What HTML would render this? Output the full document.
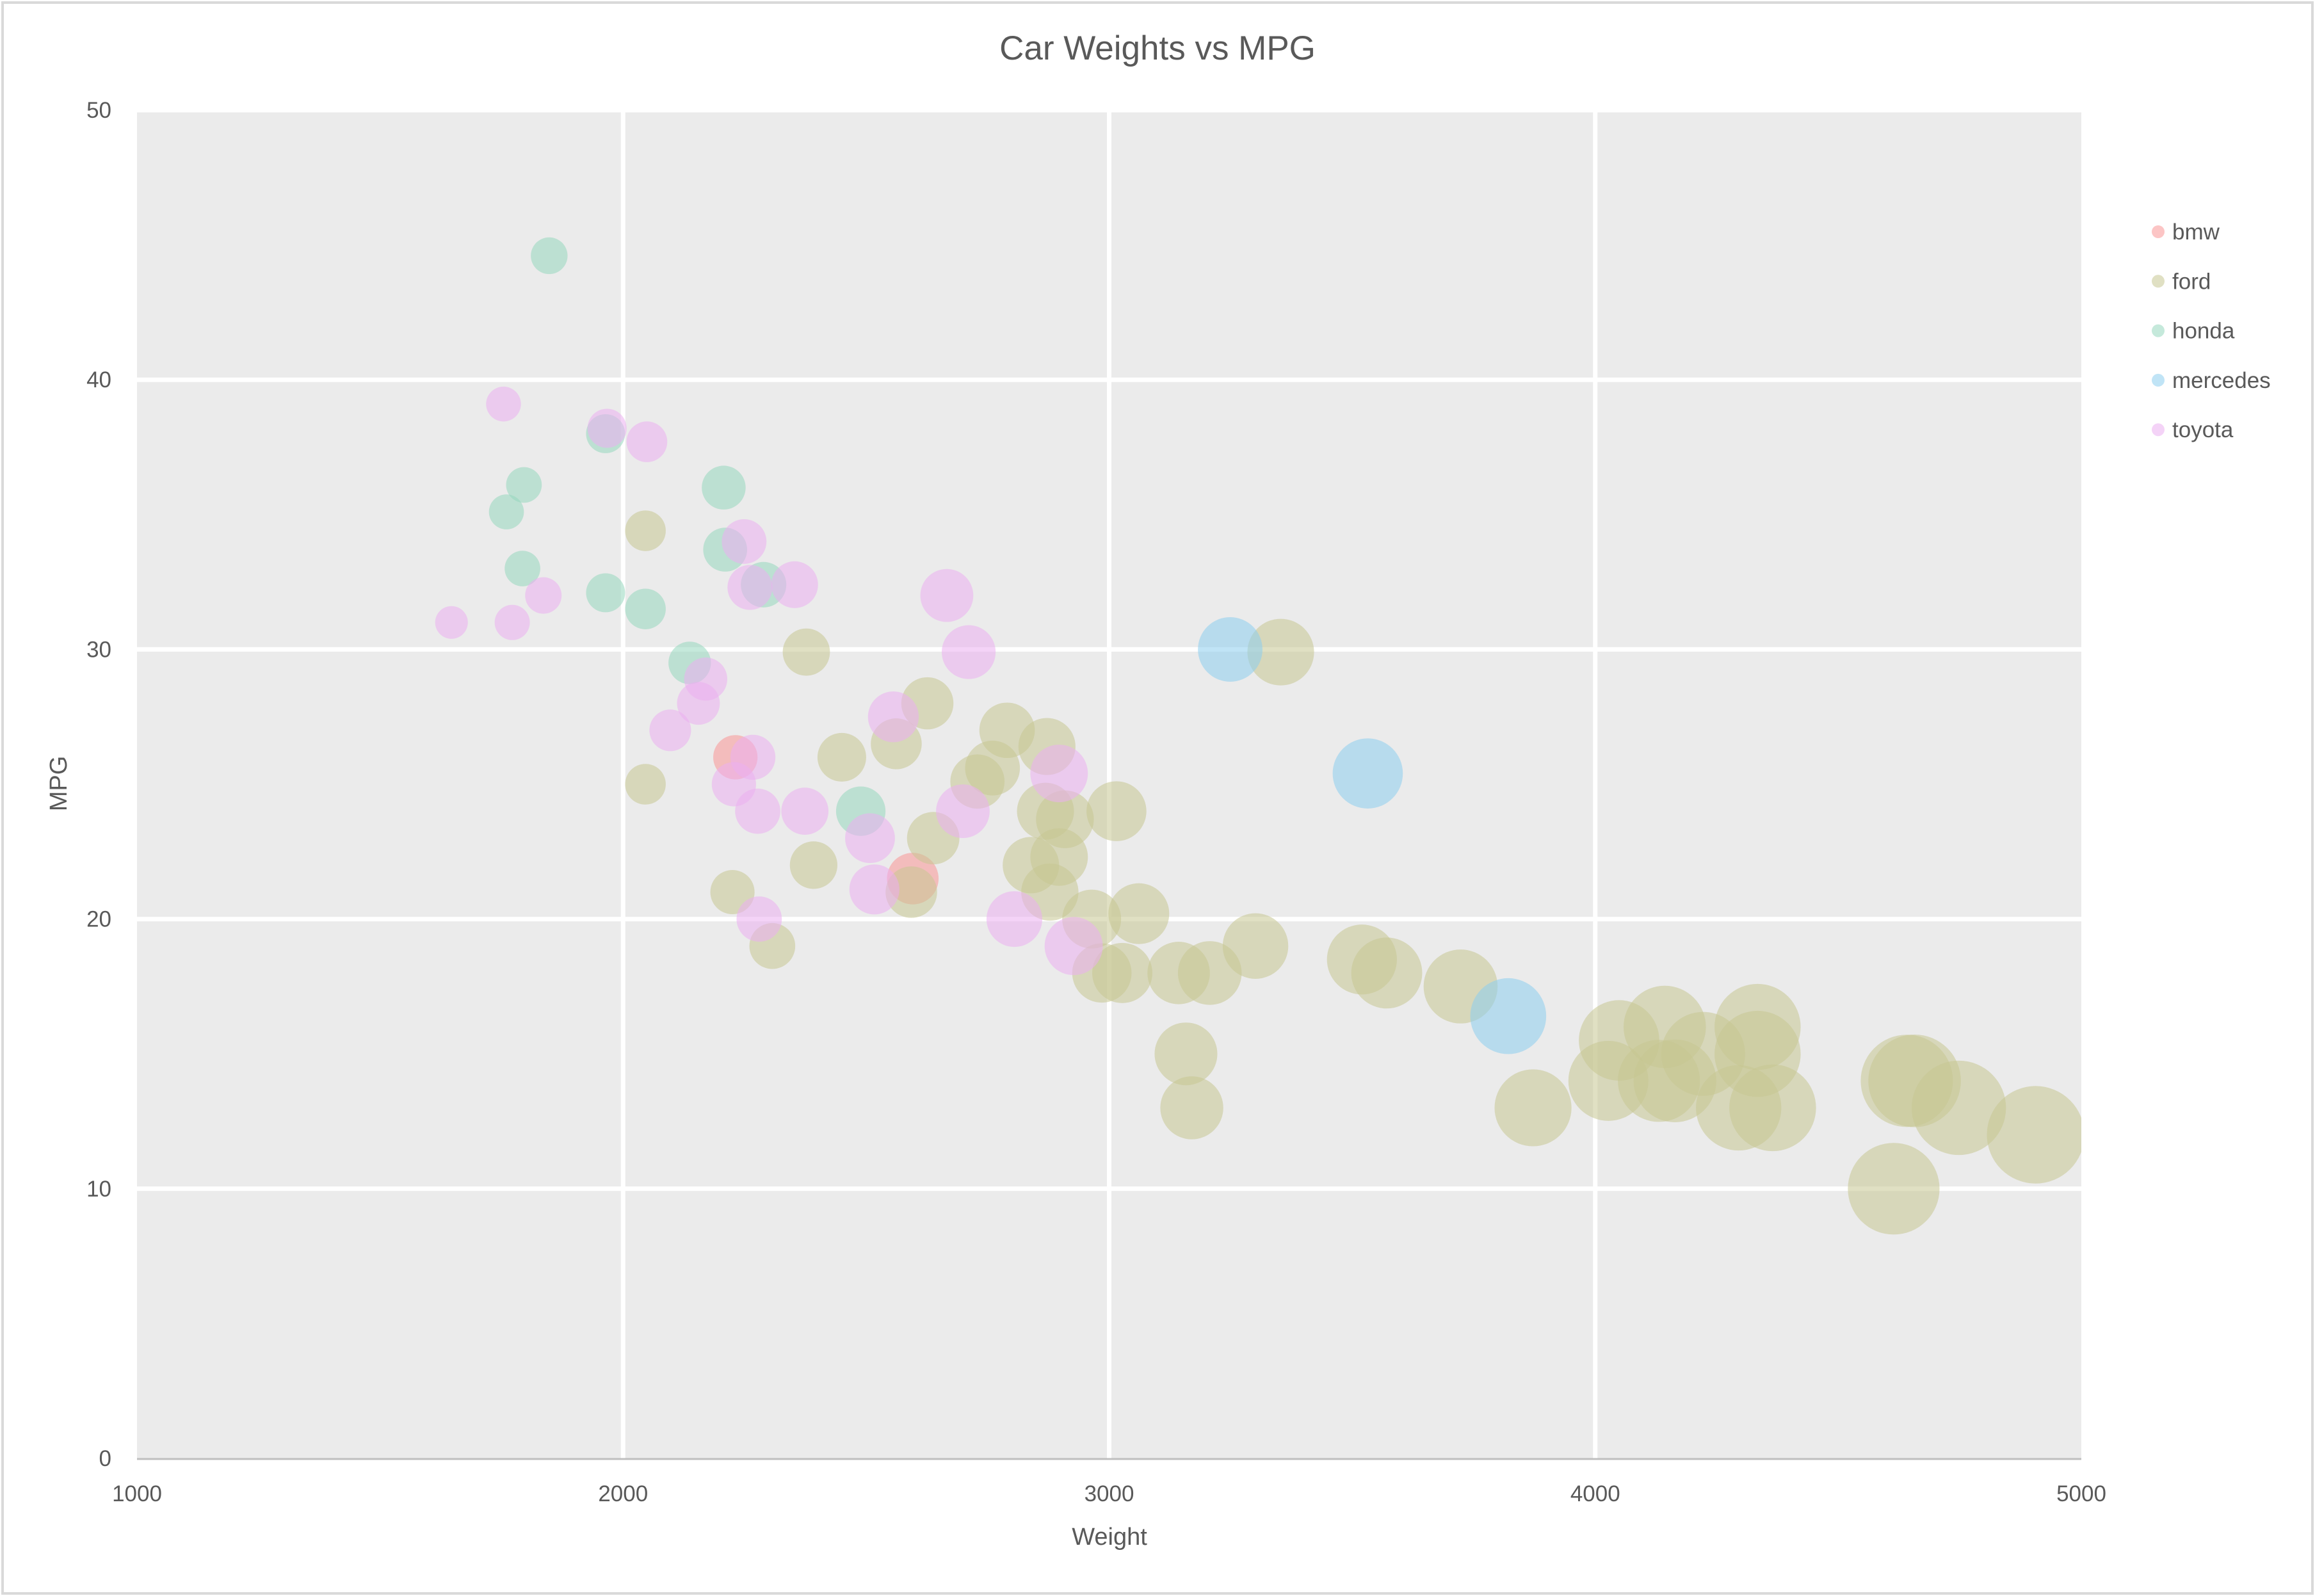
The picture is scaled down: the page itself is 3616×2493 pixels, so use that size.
<!DOCTYPE html>
<html><head><meta charset="utf-8"><style>
html,body{margin:0;padding:0;background:#fff;}
svg{display:block;font-family:"Liberation Sans",sans-serif;}
</style></head><body>
<svg id="chart" width="3616" height="2493" viewBox="0 0 3616 2493">
<rect x="4" y="4" width="3608" height="2485" fill="#fff" stroke="#d9d9d9" stroke-width="4"/>
<text x="1808" y="93" text-anchor="middle" font-size="53" fill="#595959">Car Weights vs MPG</text>
<g id="plot"></g>
<text x="1733" y="2413" text-anchor="middle" font-size="38" fill="#595959">Weight</text>
<text x="0" y="0" transform="translate(104,1224) rotate(-90)" text-anchor="middle" font-size="38" fill="#595959">MPG</text>
<g id="legend"></g>
</svg>
<script>
const seriesNames = ["bmw","ford","honda","mercedes","toyota"];
const bmwWeight = [2231,2596];
const bmwMpg = [26.0,21.5];
const fordWeight = [2046,2046,2225,2307,2377,2392,2450,2562,2626,2638,2593,2729,2760,2790,2872,2839,2869,2897,2878,2909,2964,2985,3015,3027,3061,3143,3158,3170,3207,3301,3353,3520,3571,3723,3872,4027,4049,4143,4131,4164,4222,4295,4334,4334,4365,4614,4641,4657,4748,4906];
const fordMpg = [34.4,25.0,21.0,19.0,29.9,22.0,26.0,26.5,28.0,23.0,21.0,25.1,25.6,27.0,26.4,22.0,24.0,22.3,21.0,23.7,20.0,18.0,24.0,18.0,20.2,18.0,15.0,13.0,18.0,19.0,29.9,18.5,18.0,17.5,13.0,14.0,15.5,16.0,14.0,14.0,15.0,13.0,16.0,15.0,13.0,10.0,14.0,14.0,13.0,12.0];
const hondaWeight = [1848,1964,1796,1760,1793,1964,2046,2207,2210,2289,2137,2489];
const hondaMpg = [44.6,38.0,36.1,35.1,33.0,32.1,31.5,36.0,33.7,32.4,29.5,24.0];
const mercedesWeight = [3249,3532,3821];
const mercedesMpg = [30.0,25.4,16.4];
const toyotaWeight = [1647,1754,1772,1836,1967,2049,2097,2155,2170,2249,2261,2353,2228,2267,2277,2280,2374,2508,2517,2556,2666,2711,2699,2897,2805,2927];
const toyotaMpg = [31.0,39.1,31.0,32.0,38.2,37.7,27.0,28.0,28.9,34.0,32.3,32.4,25.0,26.0,24.0,20.0,24.0,23.0,21.1,27.5,32.0,29.9,24.0,25.4,20.0,19.0];
const xTicks = [1000,2000,3000,4000,5000];
const yTicks = [0,10,20,30,40,50];

const NS="http://www.w3.org/2000/svg";
const L=214,R=3251,T=172,B=2278;
const xMin=1000,xMax=5000,yMin=0,yMax=50;
function xs(v){return L+(v-xMin)/(xMax-xMin)*(R-L);}
function ys(v){return B-(v-yMin)/(yMax-yMin)*(B-T);}
function rs(w){return w*0.01552;}
function mk(tag,attrs){const e=document.createElementNS(NS,tag);for(const k in attrs)e.setAttribute(k,attrs[k]);return e;}
const plot=document.getElementById('plot');
const bg=mk('rect',{x:L,y:T,width:R-L,height:B-T,fill:'#ebebeb'});


plot.appendChild(bg);
xTicks.forEach(t=>{
  if(t>xMin&&t<xMax){const g=mk('line',{x1:xs(t),x2:xs(t),y1:T,y2:B,stroke:'#fff','stroke-width':7});
  
  
  plot.appendChild(g);}
  const lb=mk('text',{x:xs(t),y:2345,'text-anchor':'middle','font-size':35,fill:'#595959'});
  lb.textContent=t;
  
  
  plot.appendChild(lb);
});
yTicks.forEach(t=>{
  if(t>yMin){const g=mk('line',{x1:L,x2:R,y1:ys(t),y2:ys(t),stroke:'#fff','stroke-width':7});
  
  
  plot.appendChild(g);}
  const lb=mk('text',{x:174,y:ys(t)+12,'text-anchor':'end','font-size':35,fill:'#595959'});
  lb.textContent=t;
  
  
  plot.appendChild(lb);
});
const ax=mk('line',{x1:L,x2:R,y1:B+1,y2:B+1,stroke:'#bfbfbf','stroke-width':3});


plot.appendChild(ax);
const colors={bmw:'rgb(250,150,150)',ford:'rgb(198,198,145)',honda:'rgb(150,215,190)',mercedes:'rgb(140,205,238)',toyota:'rgb(235,175,240)'};
const data={bmw:[bmwWeight,bmwMpg],ford:[fordWeight,fordMpg],honda:[hondaWeight,hondaMpg],mercedes:[mercedesWeight,mercedesMpg],toyota:[toyotaWeight,toyotaMpg]};
const clip=mk('clipPath',{id:'pc'});clip.appendChild(mk('rect',{x:L,y:T,width:R-L,height:B-T}));plot.appendChild(clip);
seriesNames.forEach(s=>{
  const g=mk('g',{'clip-path':'url(#pc)'});
  
  
  const [w,m]=data[s];
  w.forEach((v,i)=>{
    const c=mk('circle',{cx:xs(v),cy:ys(m[i]),r:rs(v),fill:colors[s],'fill-opacity':0.55});
    
    
    g.appendChild(c);
  });
  plot.appendChild(g);
});
const leg=document.getElementById('legend');
seriesNames.forEach((s,i)=>{
  const y=362+i*77.3;
  const g=mk('g',{});
  
  
  g.appendChild(mk('circle',{cx:3371,cy:y,r:10,fill:colors[s],'fill-opacity':0.55}));
  const t=mk('text',{x:3393,y:y+12,'font-size':35,fill:'#595959'});t.textContent=s;g.appendChild(t);
  leg.appendChild(g);
});
</script>
</body></html>
